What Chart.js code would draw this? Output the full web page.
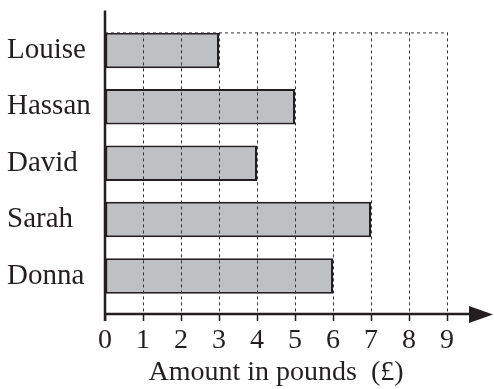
<!DOCTYPE html>
<html>
<head>
<meta charset="utf-8">
<script src="https://cdn.jsdelivr.net/npm/chart.js@4"></script>
<style>
  html, body { margin: 0; padding: 0; background: #fff; }
  #wrap { width: 494px; height: 389px; position: relative; }
</style>
</head>
<body>
<div id="wrap"><canvas id="c"></canvas></div>
<script>
// ---- data ----
const categories = ['Louise', 'Hassan', 'David', 'Sarah', 'Donna'];
const amounts = [3, 5, 4, 7, 6];
const xTickValues = [0, 1, 2, 3, 4, 5, 6, 7, 8, 9];
const xTitle = 'Amount in pounds  (£)';

const ink = '#231f20';
const FONT = '"Liberation Serif", "Times New Roman", serif';

const axesPlugin = {
  id: 'axesDecor',
  afterDraw(chart) {
    const ctx = chart.ctx;
    const area = chart.chartArea;
    const xs = chart.scales.x;
    const x0 = xs.getPixelForValue(xTickValues[0]);
    const x9 = xs.getPixelForValue(xTickValues[xTickValues.length - 1]);
    const yb = area.bottom;
    ctx.save();
    // top dotted line
    ctx.strokeStyle = '#333';
    ctx.lineWidth = 1;
    ctx.setLineDash([3, 3]);
    ctx.beginPath();
    ctx.moveTo(x0, area.top + 0.5);
    ctx.lineTo(x9, area.top + 0.5);
    ctx.stroke();
    ctx.setLineDash([]);
    // y axis
    ctx.strokeStyle = ink;
    ctx.lineWidth = 2.5;
    ctx.beginPath();
    ctx.moveTo(x0, area.top - 22);
    ctx.lineTo(x0, yb + 7);
    ctx.stroke();
    // x axis
    ctx.beginPath();
    ctx.moveTo(x0 - 1, yb);
    ctx.lineTo(chart.width - 20, yb);
    ctx.stroke();
    // arrow head
    ctx.fillStyle = ink;
    ctx.beginPath();
    ctx.moveTo(chart.width - 25, yb - 8);
    ctx.lineTo(chart.width - 1, yb + 0.5);
    ctx.lineTo(chart.width - 25, yb + 9);
    ctx.closePath();
    ctx.fill();
    ctx.restore();
  }
};

new Chart(document.getElementById('c'), {
  type: 'bar',
  data: {
    datasets: [{
      data: amounts.map((v, i) => ({ x: v, y: i })),
      backgroundColor: '#bfc0c2',
      borderColor: ink,
      borderWidth: 2,
      borderSkipped: false,
      barPercentage: 0.63,
      categoryPercentage: 1
    }]
  },
  options: {
    indexAxis: 'y',
    responsive: true,
    maintainAspectRatio: false,
    animation: false,
    events: [],
    layout: { padding: { top: 30, right: 47, bottom: 0, left: 7 } },
    plugins: { legend: { display: false }, tooltip: { enabled: false } },
    scales: {
      x: {
        type: 'linear',
        min: 0,
        max: 9,
        offset: false,
        afterBuildTicks: (s) => { s.ticks = xTickValues.map(v => ({ value: v })); },
        afterFit: (s) => { s.height = 75; },
        grid: {
          z: 1,
          offset: false,
          color: '#333',
          lineWidth: 1,
          drawTicks: true,
          tickLength: 7,
          tickColor: ink,
          tickWidth: 1.5,
          tickBorderDash: []
        },
        border: { display: false, dash: [3, 3] },
        ticks: {
          padding: 4,
          color: ink,
          maxRotation: 0,
          autoSkip: false,
          font: { family: FONT, size: 28, lineHeight: 1.1 }
        },
        title: {
          display: true,
          text: xTitle,
          color: ink,
          padding: 0,
          font: { family: FONT, size: 28, lineHeight: 1.2 }
        }
      },
      y: {
        type: 'linear',
        reverse: true,
        offset: false,
        min: -0.32,
        max: 4.675,
        afterBuildTicks: (s) => { s.ticks = categories.map((_, i) => ({ value: i })); },
        afterFit: (s) => { s.width = 98; },
        grid: { display: false, drawTicks: false, offset: false },
        border: { display: false },
        ticks: {
          autoSkip: false,
          crossAlign: 'far',
          padding: 15,
          color: ink,
          font: { family: FONT, size: 29 },
          callback: (v) => categories[v] ?? ''
        }
      }
    }
  },
  plugins: [axesPlugin]
});
</script>
</body>
</html>
